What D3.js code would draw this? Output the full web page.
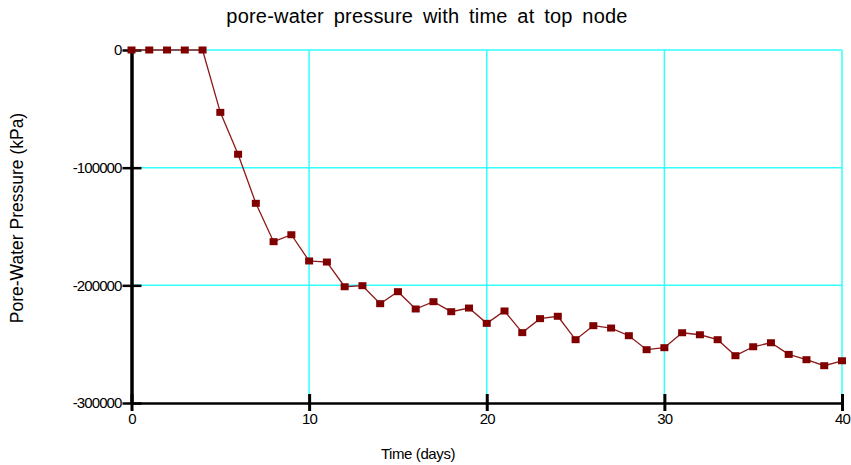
<!DOCTYPE html>
<html><head><meta charset="utf-8">
<script src="https://cdn.jsdelivr.net/npm/d3@7"></script>
<style>
body{margin:0;background:#fff;}
text{font-family:"Liberation Sans",Arial,sans-serif;fill:#000;}
</style></head>
<body><svg id="c" width="851" height="465"></svg>
<script>
const days = d3.range(0, 41);
const pressure = [0,0,0,0,0,-53000,-88600,-130300,-162900,-157000,
 -179300,-180200,-201200,-200300,-215600,-205400,-220100,-213900,-222400,-219300,
 -232300,-221800,-240200,-228300,-226300,-246200,-234300,-236300,-242800,-254700,
 -253000,-240300,-242000,-246200,-259800,-252200,-248800,-258700,-263200,-268300,-264100];
const xTicks = [0,10,20,30,40];
const yTicks = [0,-100000,-200000,-300000];
const titleText = "pore-water pressure with time at top node";
const xLabel = "Time (days)";
const yLabel = "Pore-Water Pressure (kPa)";

const svg = d3.select("#c");
const x = d3.scaleLinear().domain([0,40]).range([131.5,842]);
const y = d3.scaleLinear().domain([-300000,0]).range([403,50]);

// grid
const g = svg.append("g");
g.selectAll(".vg").data(xTicks.filter(d=>d>0)).enter().append("line")
 .attr("x1",d=>x(d)).attr("x2",d=>x(d)).attr("y1",y(0)).attr("y2",y(-300000))
 .attr("stroke","#33ffff").attr("stroke-width",1.5);
g.selectAll(".hg").data(yTicks.filter(d=>d>-300000)).enter().append("line")
 .attr("x1",x(0)).attr("x2",x(40)).attr("y1",d=>y(d)).attr("y2",d=>y(d))
 .attr("stroke","#33ffff").attr("stroke-width",1.5);

// axes
const xAxis = d3.axisBottom(x).tickValues(xTicks).tickSize(0).tickPadding(10);
const xa = svg.append("g").attr("transform",`translate(0,${y(-300000)})`).call(xAxis);
xa.select(".domain").attr("stroke","#000").attr("stroke-width",2.5);
xa.selectAll("text").attr("font-size",15).attr("letter-spacing","-0.8px").attr("fill","#000");
xa.selectAll(".tick").append("line").attr("y1",-9).attr("y2",8).attr("stroke","#000").attr("stroke-width",3);

const yAxis = d3.axisLeft(y).tickValues(yTicks).tickSize(0).tickPadding(10).tickFormat(d => String(d));
const ya = svg.append("g").attr("transform",`translate(${x(0)},0)`).call(yAxis);
ya.select(".domain").attr("stroke","#000").attr("stroke-width",3.5);
ya.selectAll("text").attr("font-size",15).attr("letter-spacing","-0.9px").attr("fill","#000");
ya.selectAll(".tick").append("line").attr("x1",-9).attr("x2",10).attr("stroke","#000").attr("stroke-width",2.5);

// line
svg.append("path").datum(days)
 .attr("d",d3.line().x(d=>x(d)).y((d,i)=>y(pressure[i])))
 .attr("fill","none").attr("stroke","#8b1a1a").attr("stroke-width",1.3);
svg.selectAll(".m").data(days).enter().append("rect")
 .attr("x",d=>x(d)-4).attr("y",(d,i)=>y(pressure[i])-3.5)
 .attr("width",8).attr("height",7).attr("fill","#800000");

// title & labels
svg.append("text").attr("x",427).attr("y",23).attr("text-anchor","middle")
 .attr("font-size",20).attr("letter-spacing","0.2px").attr("word-spacing","4px").text(titleText);
svg.append("text").attr("x",418).attr("y",459).attr("text-anchor","middle")
 .attr("font-size",15).attr("letter-spacing","-0.4px").text(xLabel);
svg.append("text").attr("transform","translate(23,218) rotate(-90)").attr("text-anchor","middle")
 .attr("font-size",17.5).text(yLabel);
</script></body></html>
